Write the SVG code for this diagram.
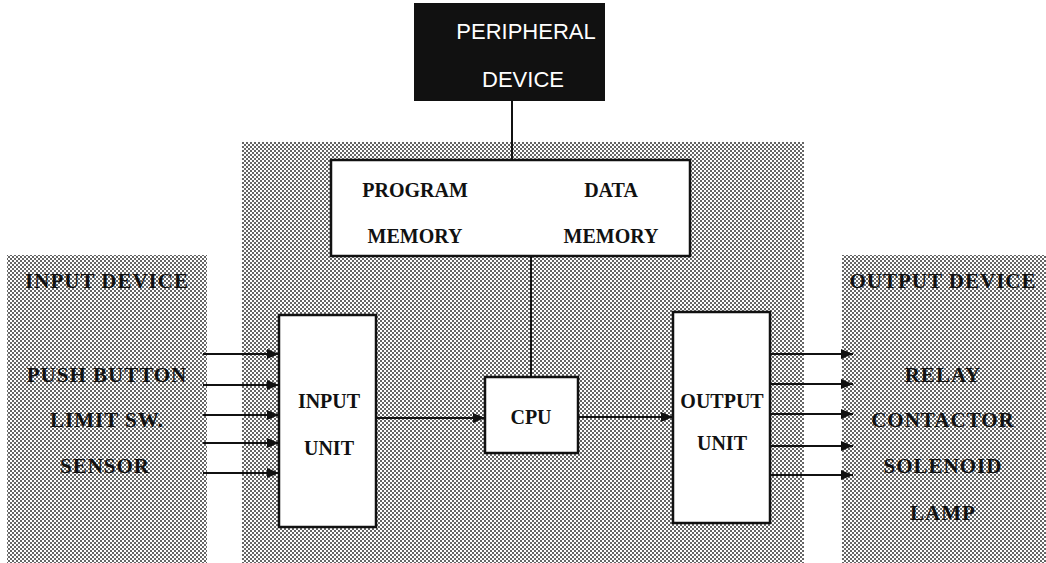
<svg xmlns="http://www.w3.org/2000/svg" width="1046" height="563" viewBox="0 0 1046 563">
<defs>
<pattern id="dots" width="4" height="4" patternUnits="userSpaceOnUse">
<rect width="4" height="4" fill="#ffffff"/>
<rect x="0" y="0" width="2" height="2" fill="#666666"/>
<rect x="2" y="2" width="2" height="2" fill="#666666"/>
</pattern>
<marker id="arr" markerWidth="12" markerHeight="10" refX="12" refY="5" orient="auto" markerUnits="userSpaceOnUse">
<path d="M0,0 L12,5 L0,10 Z" fill="#111"/>
</marker>
</defs>
<style>
.region{fill:url(#dots);}
.box{fill:#ffffff;stroke:#111;stroke-width:2.5;}
.lbl{font-family:"Liberation Serif","Times New Roman",serif;font-weight:bold;font-size:20px;fill:#111;text-anchor:middle;}
.dev{font-family:"Liberation Serif","Times New Roman",serif;font-weight:bold;font-size:21px;letter-spacing:1px;fill:#111;text-anchor:middle;}
.per{font-family:"Liberation Sans",Arial,sans-serif;font-size:22px;fill:#ffffff;text-anchor:middle;}
.wire{stroke:#111;stroke-width:2;fill:none;}
.arrow{stroke:#111;stroke-width:2.2;fill:none;marker-end:url(#arr);}
</style>
<rect width="1046" height="563" fill="#ffffff"/>

<g id="input-device">
<rect class="region" x="7" y="255" width="200" height="308"/>
<text class="dev" x="107" y="288">INPUT DEVICE</text>
<text class="dev" x="107" y="382">PUSH BUTTON</text>
<text class="dev" x="107" y="427">LIMIT SW.</text>
<text class="dev" x="105" y="473">SENSOR</text>
</g>

<g id="controller">
<rect class="region" x="242" y="142" width="562" height="421"/>
</g>

<g id="output-device">
<rect class="region" x="842" y="255" width="204" height="308"/>
<text class="dev" x="943" y="288">OUTPUT DEVICE</text>
<text class="dev" x="943" y="382">RELAY</text>
<text class="dev" x="943" y="427">CONTACTOR</text>
<text class="dev" x="943" y="473">SOLENOID</text>
<text class="dev" x="943" y="520">LAMP</text>
</g>

<g id="peripheral-device">
<rect x="414" y="3" width="191" height="98" fill="#111"/>
<text class="per" x="526" y="39">PERIPHERAL</text>
<text class="per" x="523" y="87">DEVICE</text>
</g>

<g id="connectors">
<line class="wire" x1="512" y1="101" x2="512" y2="160"/>
<line class="wire" x1="531" y1="256" x2="531" y2="377"/>
<line class="arrow" x1="376" y1="418" x2="485" y2="418"/>
<line class="arrow" x1="578" y1="417" x2="673" y2="417"/>
<line class="arrow" x1="203" y1="354" x2="279" y2="354"/>
<line class="arrow" x1="203" y1="385" x2="279" y2="385"/>
<line class="arrow" x1="203" y1="415" x2="279" y2="415"/>
<line class="arrow" x1="203" y1="443" x2="279" y2="443"/>
<line class="arrow" x1="203" y1="473" x2="279" y2="473"/>
<line class="arrow" x1="770" y1="354" x2="853" y2="354"/>
<line class="arrow" x1="770" y1="384" x2="853" y2="384"/>
<line class="arrow" x1="770" y1="414" x2="853" y2="414"/>
<line class="arrow" x1="770" y1="446" x2="853" y2="446"/>
<line class="arrow" x1="770" y1="475" x2="853" y2="475"/>
</g>

<g id="memory">
<rect class="box" x="331" y="160" width="359" height="96"/>
<text class="lbl" x="415" y="197">PROGRAM</text>
<text class="lbl" x="611" y="197">DATA</text>
<text class="lbl" x="415" y="243">MEMORY</text>
<text class="lbl" x="611" y="243">MEMORY</text>
</g>

<g id="input-unit">
<rect class="box" x="279" y="315" width="97" height="212"/>
<text class="lbl" x="329" y="408">INPUT</text>
<text class="lbl" x="329" y="455">UNIT</text>
</g>

<g id="cpu">
<rect class="box" x="485" y="377" width="93" height="76"/>
<text class="lbl" x="531" y="424">CPU</text>
</g>

<g id="output-unit">
<rect class="box" x="673" y="312" width="97" height="211"/>
<text class="lbl" x="722" y="408">OUTPUT</text>
<text class="lbl" x="722" y="450">UNIT</text>
</g>
</svg>
